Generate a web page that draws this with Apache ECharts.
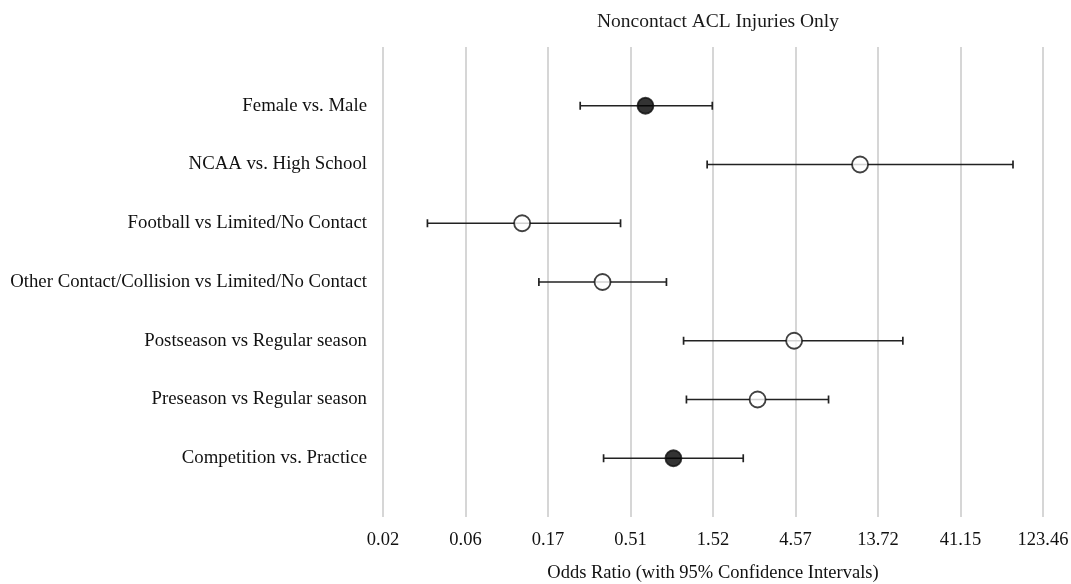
<!DOCTYPE html>
<html>
<head>
<meta charset="utf-8">
<script src="https://cdn.jsdelivr.net/npm/echarts@6/dist/echarts.min.js"></script>
<style>
  html, body { margin: 0; padding: 0; background: #fff; }
  #chart { width: 1071px; height: 584px; }
</style>
</head>
<body>
<div id="chart"></div>
<script>
// comparisons, top to bottom
var categories = [
    'Female vs. Male',
    'NCAA vs. High School',
    'Football vs Limited/No Contact',
    'Other Contact/Collision vs Limited/No Contact',
    'Postseason vs Regular season',
    'Preseason vs Regular season',
    'Competition vs. Practice'
];
var oddsRatio = [0.62, 10.8, 0.12, 0.35, 4.49, 2.76, 0.90];
var ciLower = [0.26, 1.41, 0.034, 0.15, 1.03, 1.07, 0.355];
var ciUpper = [1.51, 82.8, 0.445, 0.82, 19.1, 7.10, 2.28];
var significant = [true, false, false, false, false, false, true];
var tickLabels = ['0.02', '0.06', '0.17', '0.51', '1.52', '4.57', '13.72', '41.15', '123.46'];

// log base 3 axis, first tick = 123.46 / 3^8
var logBase = 3;
var firstTick = 123.46 / Math.pow(3, 8);
function toAxis(v) {
    return Math.log(v / firstTick) / Math.log(logBase);
}

// padded so each row sits on a tick, with a blank band above and below
var yCats = [''].concat(categories).concat(['']);

var pointData = categories.map(function (c, i) {
    return {
        value: [toAxis(oddsRatio[i]), c],
        itemStyle: {
            color: significant[i] ? '#000' : '#fff',
            borderColor: '#111',
            borderWidth: 1.8
        }
    };
});
var ciData = categories.map(function (c, i) {
    return [toAxis(ciLower[i]), toAxis(ciUpper[i]), c];
});

var font = '"Liberation Serif", "Times New Roman", serif';
var myChart = echarts.init(document.getElementById('chart'));
myChart.setOption({
    animation: false,
    title: {
        text: 'Noncontact ACL Injuries Only',
        left: 713,
        textAlign: 'center',
        top: 7,
        textStyle: { fontFamily: font, fontSize: 19.5, fontWeight: 'normal', color: '#1a1a1a' }
    },
    grid: { left: 383, right: 28, top: 47, bottom: 67, outerBoundsMode: 'none' },
    xAxis: {
        type: 'value',
        min: 0,
        max: 8,
        interval: 1,
        name: 'Odds Ratio (with 95% Confidence Intervals)',
        nameLocation: 'middle',
        nameGap: 47,
        nameTextStyle: { fontFamily: font, fontSize: 18.5, color: '#111' },
        axisLine: { show: false },
        axisTick: { show: false },
        axisLabel: {
            margin: 14,
            fontFamily: font,
            fontSize: 18.5,
            color: '#111',
            formatter: function (v) { return tickLabels[Math.round(v)]; }
        },
        splitLine: { show: true, lineStyle: { color: '#d6d6d6', width: 2 } }
    },
    yAxis: {
        type: 'category',
        data: yCats,
        inverse: true,
        boundaryGap: false,
        axisLine: { show: false },
        axisTick: { show: false },
        splitLine: { show: false },
        axisLabel: { margin: 16, fontFamily: font, fontSize: 18.8, color: '#111' }
    },
    series: [
        {
            type: 'custom',
            data: ciData,
            encode: { x: [0, 1], y: 2 },
            renderItem: function (params, api) {
                var lo = api.coord([api.value(0), api.value(2)]);
                var hi = api.coord([api.value(1), api.value(2)]);
                var cap = 4;
                var style = { stroke: '#222', lineWidth: 1.7 };
                return {
                    type: 'group',
                    children: [
                        { type: 'line', shape: { x1: lo[0], y1: lo[1], x2: hi[0], y2: hi[1] }, style: style },
                        { type: 'line', shape: { x1: lo[0], y1: lo[1] - cap, x2: lo[0], y2: lo[1] + cap }, style: style },
                        { type: 'line', shape: { x1: hi[0], y1: hi[1] - cap, x2: hi[0], y2: hi[1] + cap }, style: style }
                    ]
                };
            },
            z: 2
        },
        {
            type: 'scatter',
            symbol: 'circle',
            symbolSize: 16,
            data: pointData,
            z: 3
        }
    ]
});
</script>
</body>
</html>
